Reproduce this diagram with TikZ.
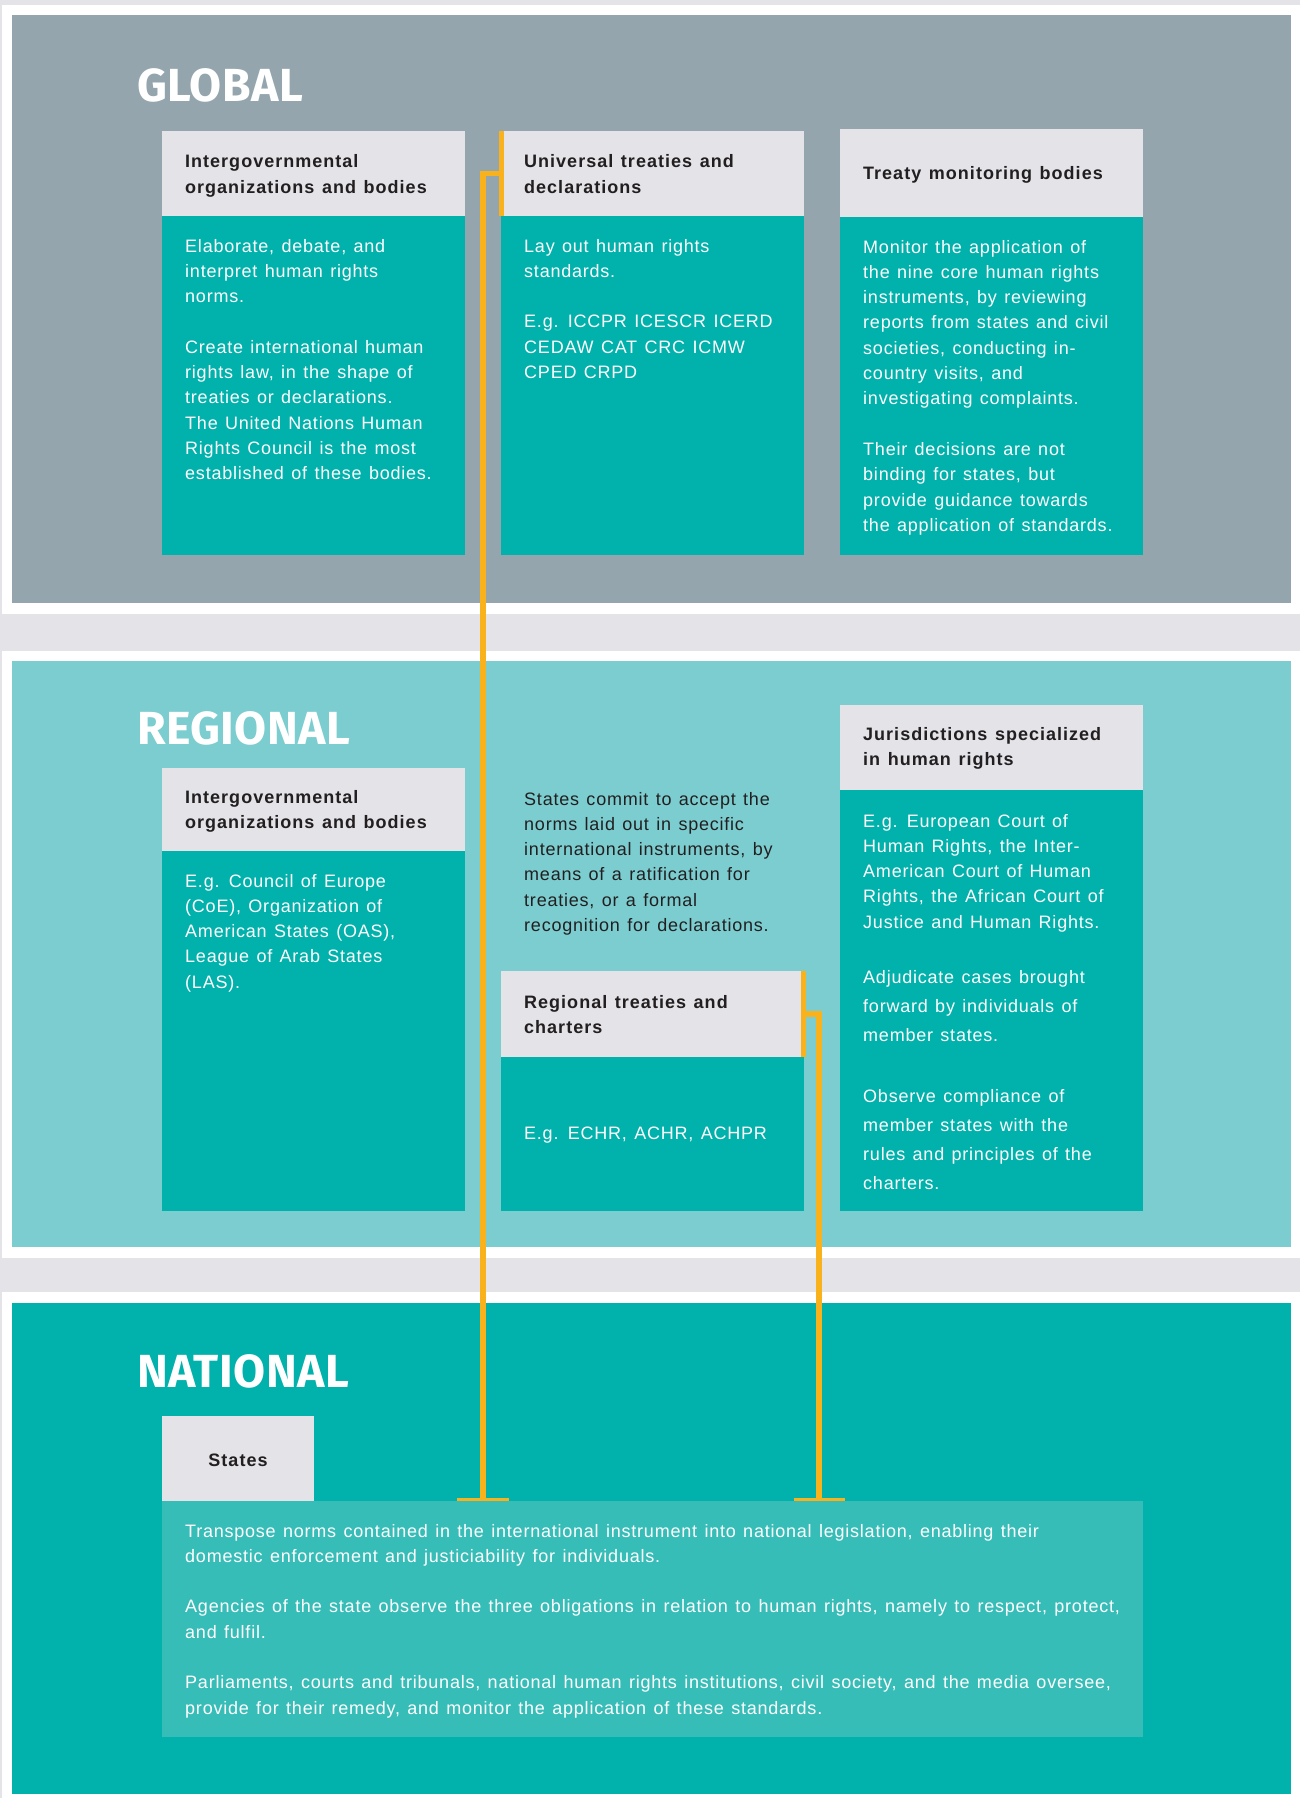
\documentclass[tikz,border=0pt]{standalone}
\usepackage{fontspec}
\setmainfont{Liberation Sans}[LetterSpace=4.3, WordSpace=1.28, BoldFeatures={LetterSpace=5.6}]
\newfontfamily\titlefam{Fira Sans}[LetterSpace=1.0]
\definecolor{bggrey}{HTML}{E3E3E8}
\definecolor{globalc}{HTML}{94A5AD}
\definecolor{regionalc}{HTML}{7BCDD0}
\definecolor{tealc}{HTML}{00B1AC}
\definecolor{natc}{HTML}{37BDB8}
\definecolor{orangec}{HTML}{F9B21C}
\definecolor{darkc}{HTML}{231F20}
\newcommand{\mylines}[1]{\begin{tabular}[t]{@{}l@{}}#1\end{tabular}}
\newcommand{\hfnt}{\fontsize{18}{25}\selectfont\bfseries}
\newcommand{\bfnt}{\fontsize{18}{25.3}\selectfont}
\newcommand{\bwide}{\fontsize{18}{29}\selectfont}
\newcommand{\tfnt}{\titlefam\fontsize{46.4}{50}\selectfont\bfseries}
\tikzset{
  hdr/.style={fill=bggrey, anchor=north west, inner sep=0, minimum width=303pt},
  bodybox/.style={fill=tealc, anchor=north west, inner sep=0, minimum width=303pt},
  htxt/.style={anchor=base west, inner sep=0, font=\hfnt, text=darkc},
  btxt/.style={anchor=base west, inner sep=0, font=\bfnt, text=white},
  ttl/.style={anchor=base west, inner sep=0, font=\tfnt, text=white},
  conn/.style={draw=orangec, line width=5.5pt},
  bar/.style={draw=orangec, line width=5pt},
  tickline/.style={draw=orangec, line width=3pt}
}
\begin{document}
\begin{tikzpicture}[x=1pt,y=-1pt]
\useasboundingbox (0,0) rectangle (1300,1798);
% backgrounds
\fill[bggrey] (0,0) rectangle (1300,1798);
\fill[white] (2,5) rectangle (1300,614);
\fill[globalc] (12,15) rectangle (1291,603);
\fill[white] (2,651) rectangle (1300,1258);
\fill[regionalc] (12,661) rectangle (1291,1247);
\fill[white] (2,1292) rectangle (1300,1798);
\fill[tealc] (12,1303) rectangle (1291,1794);

% titles
\node[ttl] (tglobal) at (137,102) {GLOBAL};
\node[ttl] (tregional) at (137,744) {REGIONAL};
\node[ttl] (tnational) at (137,1387) {NATIONAL};

% GLOBAL boxes
\node[hdr, minimum height=85pt] (g1h) at (162,131) {};
\node[bodybox, minimum height=339pt] (g1b) at (162,216) {};
\node[hdr, minimum height=85pt] (g2h) at (501,131) {};
\node[bodybox, minimum height=339pt] (g2b) at (501,216) {};
\node[hdr, minimum height=88pt] (g3h) at (840,129) {};
\node[bodybox, minimum height=338pt] (g3b) at (840,217) {};

\node[htxt] (g1ht) at (185,168) {\mylines{Intergovernmental\\organizations and bodies}};
\node[htxt] (g2ht) at (524,168) {\mylines{Universal treaties and\\declarations}};
\node[htxt] (g3ht) at (863,180) {Treaty monitoring bodies};

\node[btxt] (g1bt) at (185,252) {\mylines{Elaborate, debate, and\\interpret human rights\\norms.\\ \\Create international human\\rights law, in the shape of\\treaties or declarations.\\The United Nations Human\\Rights Council is the most\\established of these bodies.}};
\node[btxt] (g2bt) at (524,252) {\mylines{Lay out human rights\\standards.\\ \\E.g. ICCPR ICESCR ICERD\\CEDAW CAT CRC ICMW\\CPED CRPD}};
\node[btxt] (g3bt) at (863,253) {\mylines{Monitor the application of\\the nine core human rights\\instruments, by reviewing\\reports from states and civil\\societies, conducting in-\\country visits, and\\investigating complaints.\\ \\Their decisions are not\\binding for states, but\\provide guidance towards\\the application of standards.}};

% REGIONAL boxes
\node[hdr, minimum height=83pt] (r1h) at (162,768) {};
\node[bodybox, minimum height=360pt] (r1b) at (162,851) {};
\node[hdr, minimum height=86pt] (r2h) at (501,971) {};
\node[bodybox, minimum height=154pt] (r2b) at (501,1057) {};
\node[hdr, minimum height=85pt] (r3h) at (840,705) {};
\node[bodybox, minimum height=421pt] (r3b) at (840,790) {};

\node[htxt] (r1ht) at (185,803.5) {\mylines{Intergovernmental\\organizations and bodies}};
\node[htxt] (r2ht) at (524,1008) {\mylines{Regional treaties and\\charters}};
\node[htxt] (r3ht) at (863,740) {\mylines{Jurisdictions specialized\\in human rights}};

\node[btxt] (r1bt) at (185,887) {\mylines{E.g. Council of Europe\\(CoE), Organization of\\American States (OAS),\\League of Arab States\\(LAS).}};
\node[btxt, text=darkc] (rmid) at (524,805) {\mylines{States commit to accept the\\norms laid out in specific\\international instruments, by\\means of a ratification for\\treaties, or a formal\\recognition for declarations.}};
\node[btxt] (r2bt) at (524,1139.5) {E.g. ECHR, ACHR, ACHPR};
\node[btxt] (r3bt1) at (863,827) {\mylines{E.g. European Court of\\Human Rights, the Inter-\\American Court of Human\\Rights, the African Court of\\Justice and Human Rights.}};
\node[btxt, font=\bwide] (r3bt2) at (863,983) {\mylines{Adjudicate cases brought\\forward by individuals of\\member states.}};
\node[btxt, font=\bwide] (r3bt3) at (863,1102) {\mylines{Observe compliance of\\member states with the\\rules and principles of the\\charters.}};

% NATIONAL
\node[hdr, minimum width=152pt, minimum height=85pt] (st) at (162,1416) {};
\node[htxt, anchor=base] (stt) at (238,1466) {States};
\node[fill=natc, anchor=north west, inner sep=0, minimum width=981pt, minimum height=236pt] (nb) at (162,1501) {};
\node[btxt] (nbt) at (185,1537) {\mylines{Transpose norms contained in the international instrument into national legislation, enabling their\\domestic enforcement and justiciability for individuals.\\ \\Agencies of the state observe the three obligations in relation to human rights, namely to respect, protect,\\and fulfil.\\ \\Parliaments, courts and tribunals, national human rights institutions, civil society, and the media oversee,\\provide for their remedy, and monitor the application of these standards.}};

% orange connectors
\coordinate (tA) at (483,1499.5);
\coordinate (tB) at (819,1499.5);
\draw[bar] ([xshift=0.5pt]g2h.north west) -- ([xshift=0.5pt]g2h.south west);
\draw[conn] (g2h.west) -| (tA);
\draw[tickline] ([xshift=-26pt]tA) -- ([xshift=26pt]tA);
\draw[bar] ([xshift=-0.5pt]r2h.north east) -- ([xshift=-0.5pt]r2h.south east);
\draw[conn] (r2h.east) -| (tB);
\draw[tickline] ([xshift=-25.5pt]tB) -- ([xshift=25.5pt]tB);
\end{tikzpicture}
\end{document}
